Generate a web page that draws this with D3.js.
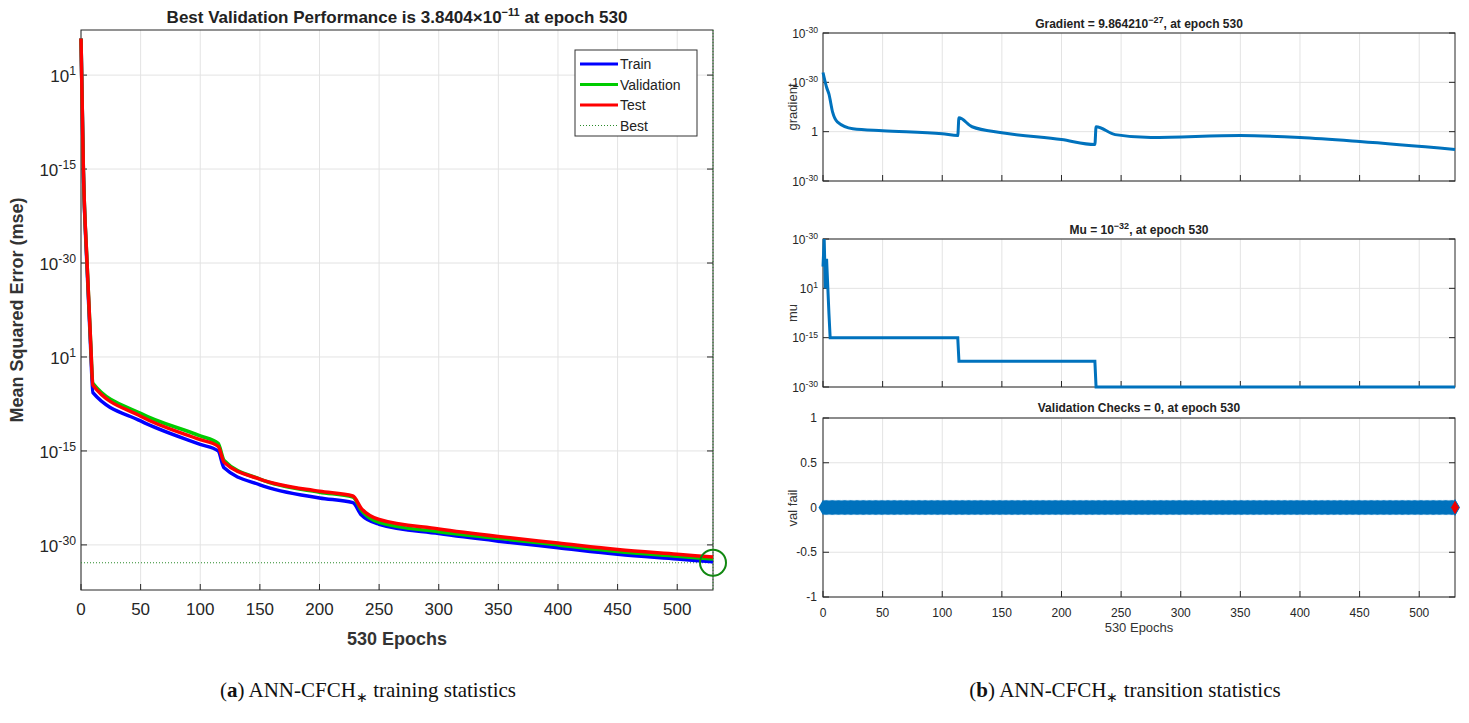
<!DOCTYPE html>
<html><head><meta charset="utf-8">
<script src="https://cdn.jsdelivr.net/npm/d3@7"></script>
<style>body{margin:0;background:#fff}text{font-family:Arial,"Liberation Sans",sans-serif}text.cap{font-family:"Liberation Serif",serif}</style>
</head><body>
<script>
// y values are in "decade rows" as the figure's axis shows them (labels are repeated)
var epochs = [0, 2, 5, 8, 10, 50, 100, 115, 120, 150, 200, 228, 235, 250, 300, 350, 400, 450, 500, 530];
var train  = [5.87, 4.45, 3.45, 2.6, 2.1, 1.8, 1.55, 1.48, 1.3, 1.12, 0.98, 0.93, 0.8, 0.7, 0.6, 0.52, 0.45, 0.38, 0.33, 0.3];
var valid  = [5.87, 4.47, 3.5, 2.66, 2.2, 1.88, 1.64, 1.56, 1.38, 1.18, 1.04, 0.99, 0.85, 0.72, 0.62, 0.55, 0.48, 0.41, 0.36, 0.33];
var test   = [5.87, 4.47, 3.5, 2.66, 2.18, 1.85, 1.6, 1.53, 1.36, 1.18, 1.05, 1.0, 0.87, 0.75, 0.65, 0.57, 0.5, 0.43, 0.38, 0.35];
var bestY = 0.29;
var perfTicks = [0.48, 1.48, 2.48, 3.48, 4.48, 5.48];
var perfLabels = [["10","-30"], ["10","-15"], ["10","1"], ["10","-30"], ["10","-15"], ["10","1"]];

var gradEpochs = [0, 3, 5, 8, 12, 25, 50, 100, 113, 114, 125, 150, 200, 228, 229, 245, 275, 350, 400, 450, 530];
var gradVals   = [2.2, 1.9, 1.76, 1.4, 1.2, 1.06, 1.02, 0.96, 0.92, 1.28, 1.1, 0.98, 0.84, 0.74, 1.1, 0.94, 0.88, 0.92, 0.88, 0.8, 0.64];
var gradLabels = [["10","-30"], ["1",""], ["10","-30"], ["10","-30"]];

var muEpochs = [0, 1, 2, 3, 5, 6, 113, 114, 228, 229, 530];
var muVals   = [2.44, 3.0, 2.0, 2.6, 1.48, 1.0, 1.0, 0.52, 0.52, 0.0, 0.0];
var muLabels = [["10","-30"], ["10","1"], ["10","-15"], ["10","-30"]];

var valTicks = [-1, -0.5, 0, 0.5, 1];
var xTicks = [0, 50, 100, 150, 200, 250, 300, 350, 400, 450, 500];

var svg = d3.select("body").append("svg").attr("width", 1469).attr("height", 723);
var grid = "#e3e3e3", axc = "#262626";

function supLabel(g, lab, x, y, size) {
  var t = g.append("text").attr("x", x).attr("y", y).attr("text-anchor", "end")
    .attr("font-size", size).attr("fill", axc);
  t.append("tspan").text(lab[0]);
  if (lab[1]) t.append("tspan").attr("dy", -size * 0.4).attr("font-size", size * 0.72).text(lab[1]);
}

function panel(o) {
  var g = svg.append("g");
  var x = d3.scaleLinear().domain([0, 530]).range([o.x0, o.x1]);
  var y = d3.scaleLinear().domain(o.yd).range([o.y1, o.y0]);
  g.selectAll(".gx").data(xTicks).join("line").attr("x1", x).attr("x2", x)
    .attr("y1", o.y0).attr("y2", o.y1).attr("stroke", grid);
  g.selectAll(".gy").data(o.yt).join("line").attr("y1", y).attr("y2", y)
    .attr("x1", o.x0).attr("x2", o.x1).attr("stroke", grid);
  g.append("rect").attr("x", o.x0).attr("y", o.y0).attr("width", o.x1 - o.x0)
    .attr("height", o.y1 - o.y0).attr("fill", "none").attr("stroke", axc);
  g.selectAll(".tx").data(xTicks).join("line").attr("x1", x).attr("x2", x)
    .attr("y1", o.y1).attr("y2", o.y1 - 6).attr("stroke", axc);
  g.selectAll(".ty").data(o.yt).join("line").attr("y1", y).attr("y2", y)
    .attr("x1", o.x0).attr("x2", o.x0 + 6).attr("stroke", axc);
  g.selectAll(".ty2").data(o.yt).join("line").attr("y1", y).attr("y2", y)
    .attr("x1", o.x1).attr("x2", o.x1 - 6).attr("stroke", axc);
  if (o.xlab !== false) {
    g.selectAll(".lx").data(xTicks).join("text").attr("x", x).attr("y", o.y1 + o.fs + 8)
      .attr("text-anchor", "middle").attr("font-size", o.fs).attr("fill", axc).text(d => d);
  }
  o.yt.forEach(function(t, i) {
    if (o.ylabs) supLabel(g, o.ylabs[i], o.x0 - 5, y(t) + o.fs * 0.4, o.fs);
    else g.append("text").attr("x", o.x0 - 6).attr("y", y(t) + o.fs * 0.35).attr("text-anchor", "end")
      .attr("font-size", o.fs).attr("fill", axc).text(t);
  });
  return {g: g, x: x, y: y};
}

// ---- left panel
var p = panel({x0: 81, x1: 713, y0: 30, y1: 590, yd: [0, 5.96], yt: perfTicks, ylabs: perfLabels, fs: 17});
var line = d3.line().x((d, i) => p.x(epochs[i])).y(d => p.y(d)).curve(d3.curveMonotoneX);
p.g.append("line").attr("x1", p.x(0)).attr("x2", p.x(530)).attr("y1", p.y(bestY)).attr("y2", p.y(bestY))
  .attr("stroke", "#2a8a2a").attr("stroke-dasharray", "1,2");
p.g.append("line").attr("x1", p.x(530)).attr("x2", p.x(530)).attr("y1", 30).attr("y2", 590)
  .attr("stroke", "#2a8a2a").attr("stroke-dasharray", "1,2");
[[train, "#0000ff"], [valid, "#00cc00"], [test, "#ff0000"]].forEach(function(s) {
  p.g.append("path").attr("d", line(s[0])).attr("fill", "none").attr("stroke", s[1]).attr("stroke-width", 3.5);
});
p.g.append("circle").attr("cx", p.x(530)).attr("cy", p.y(bestY)).attr("r", 13)
  .attr("fill", "none").attr("stroke", "#118811").attr("stroke-width", 2);
var t1 = svg.append("text").attr("x", 397).attr("y", 23).attr("text-anchor", "middle")
  .attr("font-size", 17).attr("font-weight", "bold").attr("fill", "#222");
t1.append("tspan").text("Best Validation Performance is 3.8404\u00d710");
t1.append("tspan").attr("dy", -7).attr("font-size", 11).text("\u221211");
t1.append("tspan").attr("dy", 7).text(" at epoch 530");
svg.append("text").attr("x", 397).attr("y", 645).attr("text-anchor", "middle").attr("font-size", 18)
  .attr("font-weight", "bold").attr("fill", "#333").text("530 Epochs");
svg.append("text").attr("transform", "translate(23,310) rotate(-90)").attr("text-anchor", "middle")
  .attr("font-size", 18).attr("font-weight", "bold").attr("fill", "#333").text("Mean Squared Error  (mse)");
// legend
var lg = svg.append("g").attr("transform", "translate(575,50)");
lg.append("rect").attr("width", 122).attr("height", 86).attr("fill", "#fff").attr("stroke", "#333");
[["Train", "#0000ff", 0], ["Validation", "#00cc00", 0], ["Test", "#ff0000", 0], ["Best", "#2a8a2a", 1]].forEach(function(d, i) {
  var yy = 14 + i * 20.5;
  lg.append("line").attr("x1", 5).attr("x2", 43).attr("y1", yy).attr("y2", yy).attr("stroke", d[1])
    .attr("stroke-width", d[2] ? 1 : 3).attr("stroke-dasharray", d[2] ? "1,2" : null);
  lg.append("text").attr("x", 45).attr("y", yy + 5).attr("font-size", 14).attr("fill", "#222").text(d[0]);
});

// ---- right panels
var rp = {x0: 823, x1: 1455, fs: 12};
var g1 = panel(Object.assign({y0: 33, y1: 181, yd: [0, 3], yt: [0, 1, 2, 3], ylabs: gradLabels, xlab: false}, rp));
g1.g.append("path").attr("d", d3.line().x((d, i) => g1.x(gradEpochs[i])).y(d => g1.y(d)).curve(d3.curveMonotoneX)(gradVals))
  .attr("fill", "none").attr("stroke", "#0072bd").attr("stroke-width", 3);
var g2 = panel(Object.assign({y0: 239, y1: 387, yd: [0, 3], yt: [0, 1, 2, 3], ylabs: [muLabels[3], muLabels[2], muLabels[1], muLabels[0]], xlab: false}, rp));
g2.g.append("path").attr("d", d3.line().x((d, i) => g2.x(muEpochs[i])).y(d => g2.y(d))(muVals))
  .attr("fill", "none").attr("stroke", "#0072bd").attr("stroke-width", 3);
var g3 = panel(Object.assign({y0: 418, y1: 597, yd: [-1, 1], yt: valTicks}, rp));
var allEp = d3.range(0, 531);
g3.g.selectAll(".dm").data(allEp).join("path").attr("d", d3.symbol(d3.symbolDiamond, 70))
  .attr("transform", d => "translate(" + g3.x(d) + "," + g3.y(0) + ")").attr("fill", "#0072bd");
g3.g.append("path").attr("d", d3.symbol(d3.symbolDiamond, 70)).attr("transform", "translate(" + g3.x(530) + "," + g3.y(0) + ")")
  .attr("fill", "#e00").attr("stroke", "#0072bd");

function rtitle(y, parts) {
  var t = svg.append("text").attr("x", 1139).attr("y", y).attr("text-anchor", "middle")
    .attr("font-size", 12).attr("font-weight", "bold").attr("fill", "#222");
  t.append("tspan").text(parts[0]);
  t.append("tspan").attr("dy", -5).attr("font-size", 9).text(parts[1]);
  t.append("tspan").attr("dy", 5).text(parts[2]);
}
rtitle(28, ["Gradient = 9.864210", "\u221227", ", at epoch 530"]);
rtitle(234, ["Mu = 10", "\u221232", ", at epoch 530"]);
svg.append("text").attr("x", 1139).attr("y", 412).attr("text-anchor", "middle").attr("font-size", 12)
  .attr("font-weight", "bold").attr("fill", "#222").text("Validation Checks = 0, at epoch 530");
svg.append("text").attr("x", 1139).attr("y", 632).attr("text-anchor", "middle").attr("font-size", 13)
  .attr("fill", "#333").text("530 Epochs");
[["gradient", 107], ["mu", 313], ["val fail", 508]].forEach(function(d) {
  svg.append("text").attr("transform", "translate(797," + d[1] + ") rotate(-90)").attr("text-anchor", "middle")
    .attr("font-size", 13).attr("fill", "#333").text(d[0]);
});

// captions
[[368, "a", "training"], [1125, "b", "transition"]].forEach(function(c) {
  var t = svg.append("text").attr("class", "cap").attr("x", c[0]).attr("y", 697).attr("text-anchor", "middle")
    .attr("font-size", 21).attr("fill", "#111");
  t.append("tspan").text("(");
  t.append("tspan").attr("font-weight", "bold").text(c[1]);
  t.append("tspan").text(") ANN-CFCH");
  t.append("tspan").attr("dy", 5).attr("font-size", 14).text("\u2217");
  t.append("tspan").attr("dy", -5).text(" " + c[2] + " statistics");
});
</script>
</body></html>
